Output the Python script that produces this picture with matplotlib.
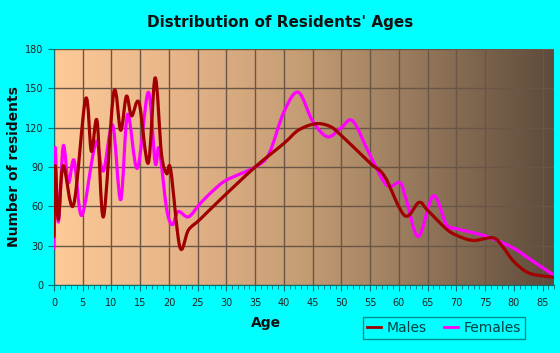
import numpy as np
import matplotlib
matplotlib.use("Agg")
import matplotlib.pyplot as plt
from matplotlib.path import Path
from matplotlib.patches import PathPatch
from matplotlib.colors import LinearSegmentedColormap
from matplotlib.lines import Line2D

# values
male_age = [0, 0.2, 0.75, 1.6, 3.4, 5.5, 6.5, 7.5, 8.6, 10.4, 11.6, 12.6, 13.5,
            14.8, 16.4, 17.6, 18.7, 19.6, 20.3, 21.9, 23.4, 25.4, 28.9, 35, 40,
            42.5, 45.5, 48, 50, 55, 57.5, 61, 63.5, 65, 68.2, 70, 72.9, 76.4,
            78.1, 80, 82.7, 86.8]
male_val = [37, 91, 50, 91, 61, 142, 102, 125, 52, 147, 118, 144, 129,
            139, 93, 158, 100, 85, 88, 29, 42, 50, 65, 90, 108,
            118, 123, 121, 114, 93, 83, 53, 63, 57, 43, 38, 34, 36,
            29, 18, 9, 6]

female_age = [0, 0.2, 0.75, 1.6, 2.5, 3.5, 4.8, 6.8, 7.5, 8.6, 10.2, 11.6, 12.8,
              14.5, 16.4, 17.6, 18.3, 19.6, 20.6, 21.6, 23.4, 25.4, 27.7, 30,
              35, 37.4, 40, 42.5, 45, 47.6, 50, 52, 55, 57.9, 60.2, 61.3, 63.4,
              66, 68.3, 70, 75.3, 80, 82.7, 86.8]
female_val = [28, 105, 48, 106, 78, 95, 53, 100, 109, 87, 122, 65, 130,
              89, 147, 93, 104, 58, 46, 56, 52, 62, 72, 80,
              90, 100, 132, 147, 125, 113, 120, 125, 99, 76, 78, 65, 37,
              68, 46, 43, 37, 28, 20, 8]

x_ticks = list(range(0, 90, 5))
y_ticks = list(range(0, 181, 30))


def smooth_path(xs, ys):
    # Catmull-Rom through the read points, handed to matplotlib as cubic beziers
    p = np.column_stack([xs, ys]).astype(float)
    p = np.vstack([p[0], p, p[-1]])
    verts = [p[1]]
    codes = [Path.MOVETO]
    for i in range(1, len(p) - 2):
        c1 = p[i] + (p[i + 1] - p[i - 1]) / 6
        c2 = p[i + 1] - (p[i + 2] - p[i]) / 6
        verts += [c1, c2, p[i + 1]]
        codes += [Path.CURVE4] * 3
    return Path(verts, codes)


fig = plt.figure(figsize=(5.6, 3.53), dpi=100, facecolor="#00ffff")
ax = fig.add_axes([54 / 560, 1 - 285 / 353, 500 / 560, 236 / 353])
ax.set_xlim(0, 87)
ax.set_ylim(0, 180)

bg = LinearSegmentedColormap.from_list(
    "bg", ["#fdca97", "#e6b488", "#c49c74", "#917559", "#5e4b3b"])
ax.imshow(np.linspace(0, 1, 256)[None, :], cmap=bg, aspect="auto",
          extent=[0, 87, 0, 180], zorder=0)

ax.set_xticks(x_ticks)
ax.set_xticks(range(0, 88), minor=True)
ax.set_yticks(y_ticks)
ax.grid(True, color="#6a5646", linewidth=1, zorder=1)

ax.add_patch(PathPatch(smooth_path(female_age, female_val), fill=False,
                       edgecolor="#ff00ff", linewidth=2.3, zorder=3,
                       capstyle="round", joinstyle="round"))
ax.add_patch(PathPatch(smooth_path(male_age, male_val), fill=False,
                       edgecolor="#a00000", linewidth=2.3, zorder=4,
                       capstyle="round", joinstyle="round"))

for s in ["top", "right"]:
    ax.spines[s].set_visible(False)
for s in ["left", "bottom"]:
    ax.spines[s].set_color("#007070")
ax.tick_params(axis="both", which="major", length=4, color="#007070",
               labelsize=7, labelcolor="#222222")
ax.tick_params(axis="x", which="minor", length=3, color="#007070")
ax.tick_params(axis="x", pad=5)

fig.text(0.5, 1 - 22 / 353, "Distribution of Residents' Ages", ha="center",
         va="center", fontsize=11, fontweight="bold", color="#111111")
fig.text(266 / 560, 1 - 323 / 353, "Age", ha="center", va="center",
         fontsize=10, fontweight="bold", color="#111111")
fig.text(14 / 560, 1 - 167 / 353, "Number of residents", ha="center",
         va="center", rotation=90, fontsize=10, fontweight="bold",
         color="#111111")

handles = [Line2D([], [], color="#a00000", lw=2),
           Line2D([], [], color="#ff00ff", lw=2)]
leg = fig.legend(handles, ["Males", "Females"], loc="center",
                 bbox_to_anchor=(444 / 560, 1 - 328 / 353), ncol=2,
                 fontsize=10, frameon=True, fancybox=False, handlelength=1.0,
                 handletextpad=0.4, columnspacing=1.2, borderpad=0.3)
leg.get_frame().set_edgecolor("#007070")
leg.get_frame().set_facecolor("#00ffff")
for t in leg.get_texts():
    t.set_color("#004040")

fig.savefig("out.png", dpi=100, facecolor=fig.get_facecolor())
